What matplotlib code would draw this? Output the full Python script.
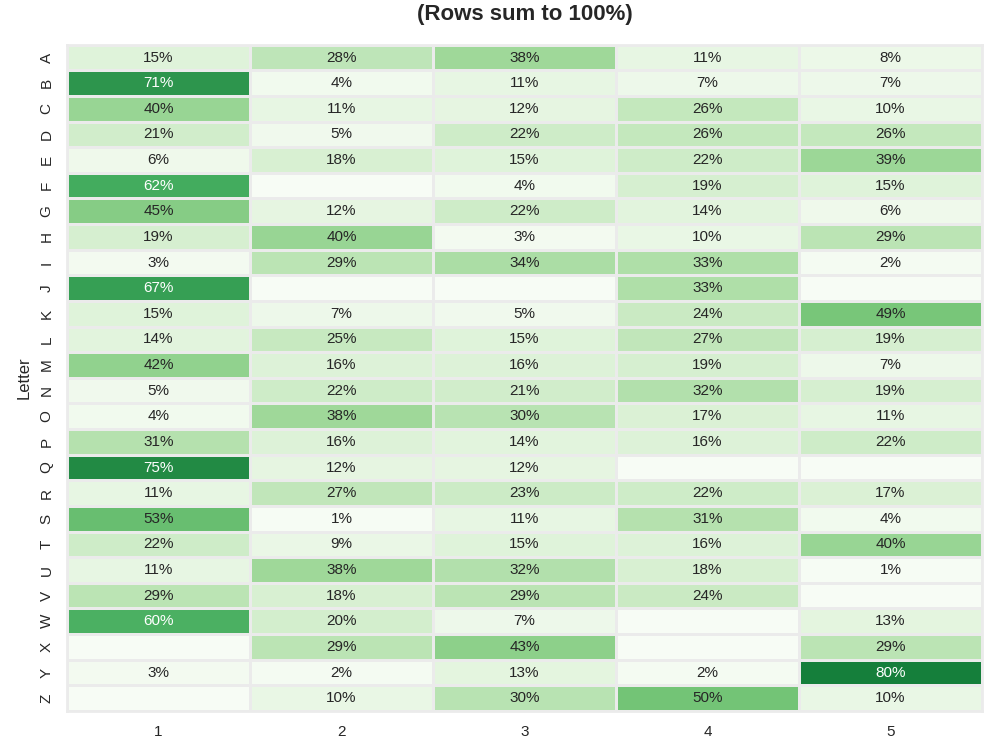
import numpy as np
import matplotlib
matplotlib.use("Agg")
import matplotlib.pyplot as plt
import seaborn as sns
import pandas as pd

letters = list("ABCDEFGHIJKLMNOPQRSTUVWXYZ")
positions = [1, 2, 3, 4, 5]
pos1 = [15, 71, 40, 21, 6, 62, 45, 19, 3, 67, 15, 14, 42, 5, 4, 31, 75, 11, 53, 22, 11, 29, 60, 0, 3, 0]
pos2 = [28, 4, 11, 5, 18, 0, 12, 40, 29, 0, 7, 25, 16, 22, 38, 16, 12, 27, 1, 9, 38, 18, 20, 29, 2, 10]
pos3 = [38, 11, 12, 22, 15, 4, 22, 3, 34, 0, 5, 15, 16, 21, 30, 14, 12, 23, 11, 15, 32, 29, 7, 43, 13, 30]
pos4 = [11, 7, 26, 26, 22, 19, 14, 10, 33, 33, 24, 27, 19, 32, 17, 16, 0, 22, 31, 16, 18, 24, 0, 0, 2, 50]
pos5 = [8, 7, 10, 26, 39, 15, 6, 29, 2, 0, 49, 19, 7, 19, 11, 22, 0, 17, 4, 40, 1, 0, 13, 29, 80, 10]

df = pd.DataFrame({1: pos1, 2: pos2, 3: pos3, 4: pos4, 5: pos5}, index=letters)
labels = df.map(lambda v: f"{v}%" if v > 0 else "")

sns.set_theme(style="white")
plt.rcParams['font.family'] = ['Liberation Sans', 'DejaVu Sans']

fig = plt.figure(figsize=(10, 7.46), dpi=100)
ax = fig.add_axes([0.067, 0.047, 0.915, 0.893])
sns.heatmap(df, ax=ax, cmap="Greens", vmin=0, vmax=100, annot=labels.values, fmt="",
            linewidths=2, linecolor="#ebebeb", cbar=False,
            annot_kws={"fontsize": 11})
ax.set_xlabel("Position in Word", fontsize=12, labelpad=22)
ax.set_ylabel("Letter", fontsize=12, labelpad=5.5)
ax.set_title("(Rows sum to 100%)", fontsize=16, fontweight="bold", pad=18)
ax.tick_params(axis="x", labelsize=11, length=0, pad=10)
ax.tick_params(axis="y", labelsize=11, length=0, pad=9.6, rotation=90)
for lbl in ax.get_yticklabels():
    lbl.set_va("center")
for s in ax.spines.values():
    s.set_visible(True)
    s.set_color("#ebebeb")
    s.set_linewidth(2)

fig.savefig("out.png", dpi=100)
